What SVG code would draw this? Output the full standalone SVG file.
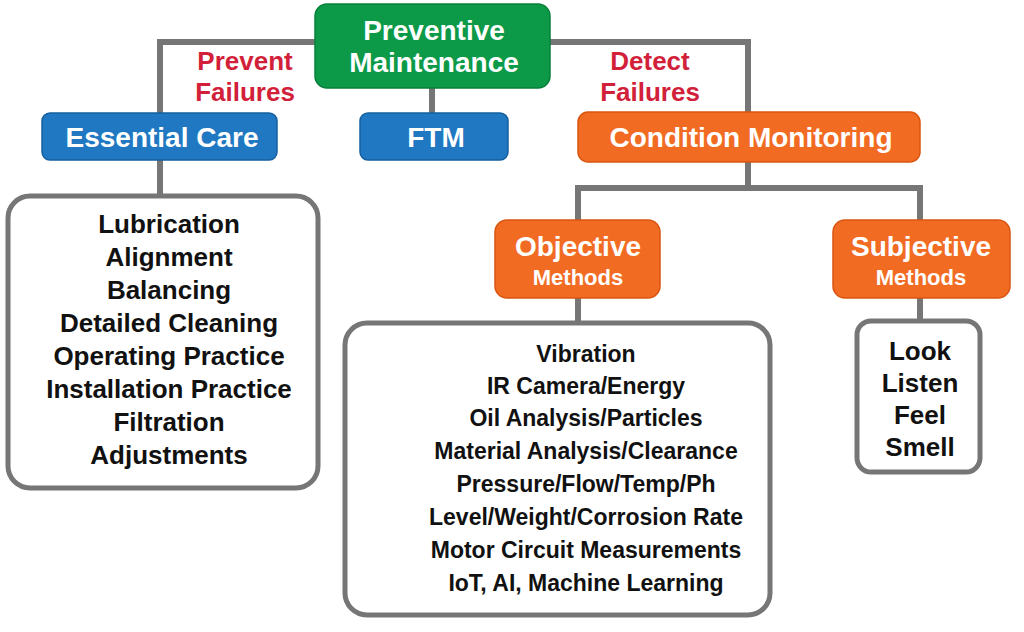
<svg xmlns="http://www.w3.org/2000/svg" width="1024" height="632" viewBox="0 0 1024 632">
<style>
.c{fill:none;stroke:#767676;stroke-width:6}
.g{fill:#0c9a48;stroke:#07803a;stroke-width:1.5}
.b{fill:#1f78c1;stroke:#155f9e;stroke-width:1.5}
.o{fill:#f26b23;stroke:#d95510;stroke-width:1.5}
.w{fill:#fff;stroke:#767676;stroke-width:5}
text{font-family:"Liberation Sans",Arial,sans-serif;font-weight:bold;text-anchor:middle}
.t{fill:#fff;font-size:28px}
.ts{fill:#fff;font-size:22px}
.r{fill:#d21f3a;font-size:26px}
.k{fill:#111;font-size:26px}
.s{fill:#111;font-size:23px}
</style>
<g id="connectors">
<path class="c" d="M160 115V42H748V112"/>
<path class="c" d="M432 88V113"/>
<path class="c" d="M160 160V196"/>
<path class="c" d="M748 162V188M578 220V188H920V220"/>
<path class="c" d="M578 298V323"/>
<path class="c" d="M920 298V321"/>
</g>
<g id="pm"><rect class="g" x="315" y="4" width="235" height="84" rx="12"/><text class="t" x="434" y="40">Preventive</text><text class="t" x="434" y="72">Maintenance</text></g>
<g id="labels"><text class="r" x="245" y="70">Prevent</text><text class="r" x="245" y="101">Failures</text><text class="r" x="650" y="70">Detect</text><text class="r" x="650" y="101">Failures</text></g>
<g id="ec"><rect class="b" x="42" y="113" width="235" height="47" rx="8"/><text class="t" x="162" y="147">Essential Care</text></g>
<g id="ftm"><rect class="b" x="360" y="113" width="148" height="47" rx="8"/><text class="t" x="436" y="147">FTM</text></g>
<g id="cm"><rect class="o" x="578" y="112" width="342" height="50" rx="10"/><text class="t" x="751" y="147">Condition  Monitoring</text></g>
<g id="obj"><rect class="o" x="495" y="220" width="165" height="78" rx="12"/><text class="t" x="578" y="256">Objective</text><text class="ts" x="578" y="285">Methods</text></g>
<g id="subj"><rect class="o" x="833" y="220" width="177" height="78" rx="12"/><text class="t" x="921" y="256">Subjective</text><text class="ts" x="921" y="285">Methods</text></g>
<g id="eclist"><rect class="w" x="8" y="196" width="310" height="292" rx="22"/>
<text class="k" x="169" y="233">Lubrication</text><text class="k" x="169" y="266">Alignment</text><text class="k" x="169" y="299">Balancing</text><text class="k" x="169" y="332">Detailed Cleaning</text><text class="k" x="169" y="365">Operating Practice</text><text class="k" x="169" y="398">Installation Practice</text><text class="k" x="169" y="431">Filtration</text><text class="k" x="169" y="464">Adjustments</text></g>
<g id="objlist"><rect class="w" x="345" y="323" width="425" height="292" rx="22"/>
<text class="s" x="586" y="362">Vibration</text><text class="s" x="586" y="394">IR Camera/Energy</text><text class="s" x="586" y="426">Oil Analysis/Particles</text><text class="s" x="586" y="459">Material Analysis/Clearance</text><text class="s" x="586" y="492">Pressure/Flow/Temp/Ph</text><text class="s" x="586" y="525">Level/Weight/Corrosion Rate</text><text class="s" x="586" y="558">Motor Circuit Measurements</text><text class="s" x="586" y="591">IoT, AI, Machine Learning</text></g>
<g id="subjlist"><rect class="w" x="857" y="321" width="123" height="151" rx="14"/>
<text class="k" x="920" y="360">Look</text><text class="k" x="920" y="392">Listen</text><text class="k" x="920" y="424">Feel</text><text class="k" x="920" y="456">Smell</text></g>
</svg>
